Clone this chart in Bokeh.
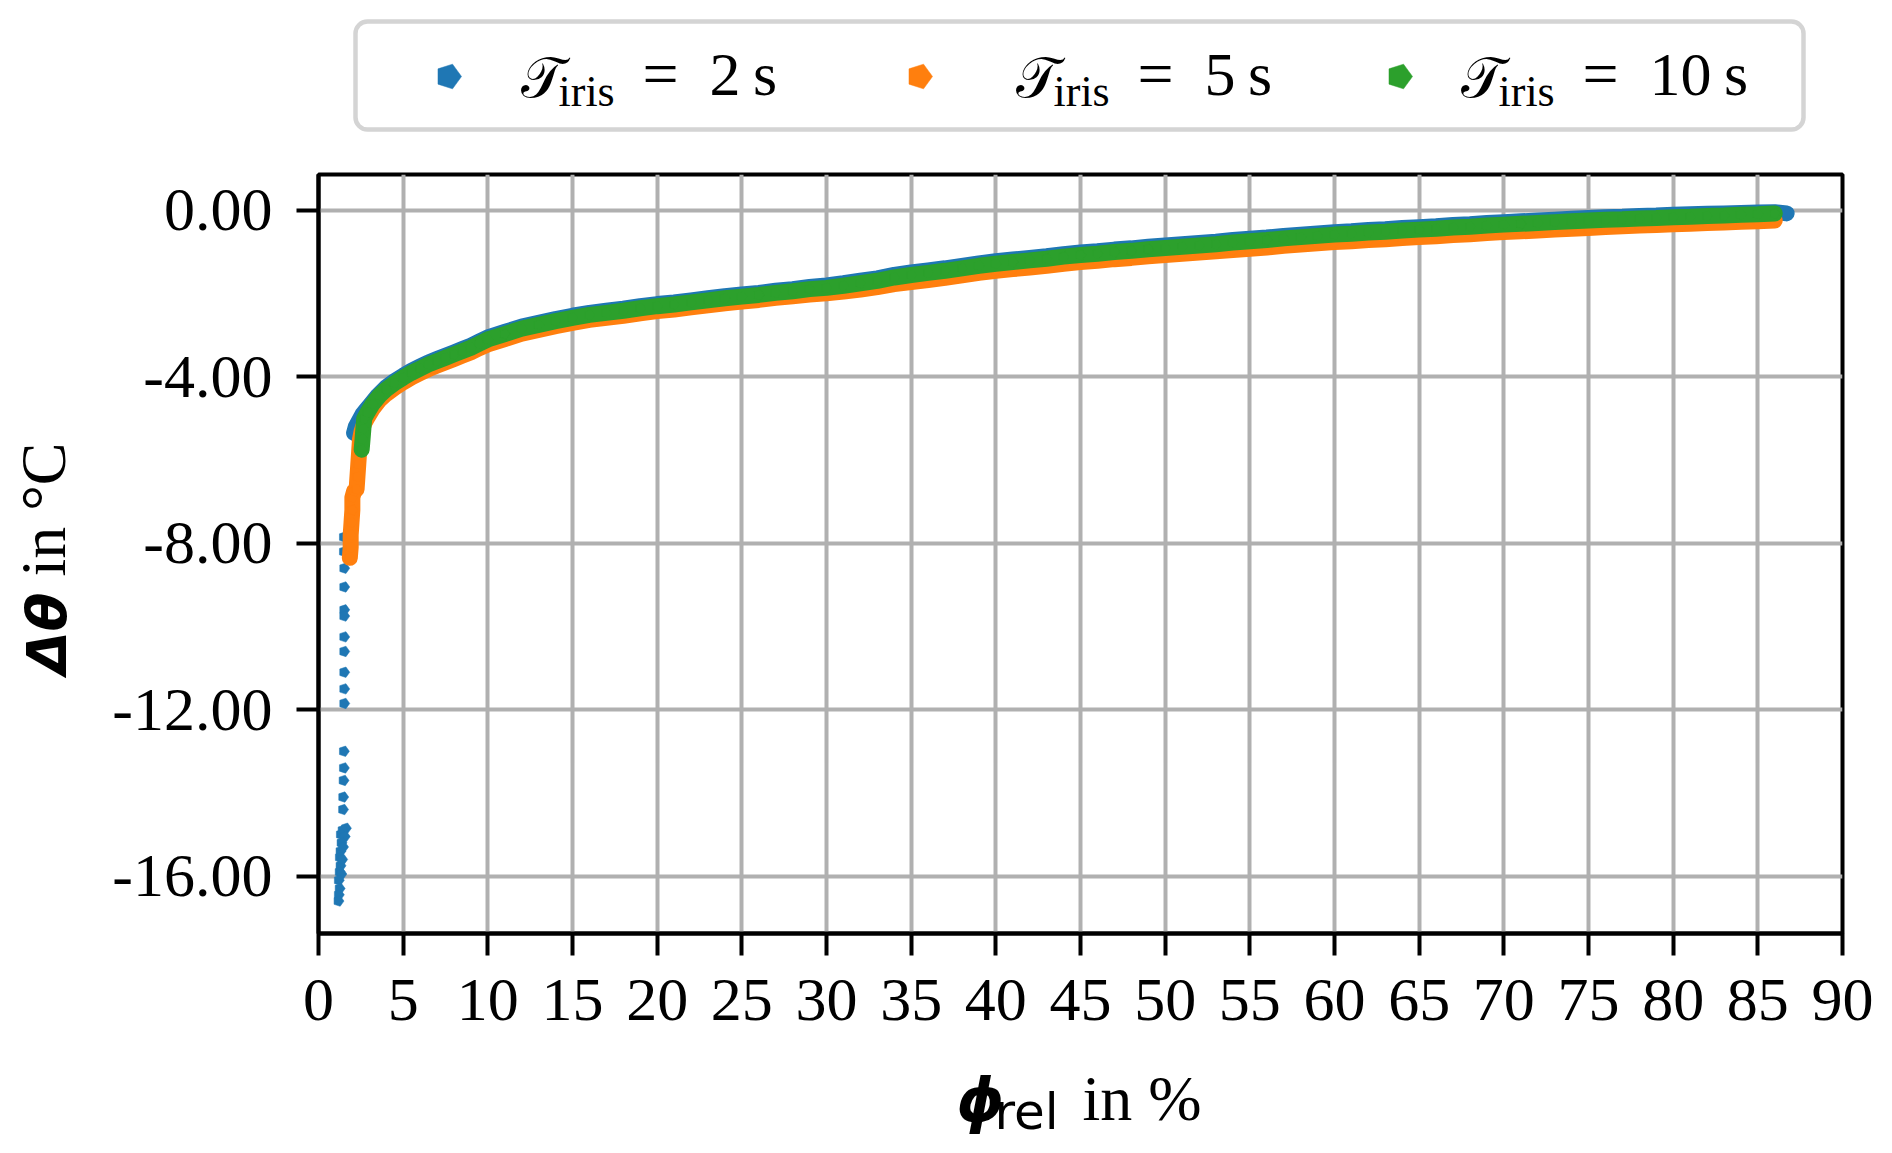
import math
from bokeh.plotting import figure
from bokeh.models import Range1d, FixedTicker
from bokeh.layouts import column, row
from bokeh.embed import file_html
from bokeh.resources import INLINE
from bokeh.core.properties import value

# ---------------- data ----------------
x_ticks = [0, 5, 10, 15, 20, 25, 30, 35, 40, 45, 50, 55, 60, 65, 70, 75, 80, 85, 90]
x_tick_labels = ["0", "5", "10", "15", "20", "25", "30", "35", "40", "45",
                 "50", "55", "60", "65", "70", "75", "80", "85", "90"]
y_ticks = [-16, -12, -8, -4, 0]
y_tick_labels = ["-16.00", "-12.00", "-8.00", "-4.00", "0.00"]

series_names = ["2", "5", "10"]          # T_iris in s
series_colors = ["#1f77b4", "#ff7f0e", "#2ca02c"]

# reading positions for the smooth part (phi_rel in %)
phi_read = [10, 11, 12, 13, 14, 15, 16, 17, 18, 19, 20, 21, 22, 23, 24, 25, 26, 27, 28, 29,
            30, 31, 32, 33, 34, 35, 36, 37, 38, 39, 40, 41, 42, 43, 44, 45, 46, 47, 48, 49,
            50, 51, 52, 53, 54, 55, 56, 57, 58, 59, 60, 61, 62, 63, 64, 65, 66, 67, 68, 69,
            70, 71, 72, 73, 74, 75, 76, 77, 78, 79, 80, 81, 82, 83, 84, 85, 86]

# T_iris = 2 s : isolated steep points
phi_2s_steep = [1.50, 1.50, 1.52, 1.52, 1.52, 1.52, 1.52, 1.52, 1.52, 1.52, 1.52, 1.50, 1.50,
                1.48, 1.46, 1.45, 1.62, 1.42, 1.32, 1.55, 1.36, 1.30, 1.45, 1.26, 1.30, 1.40,
                1.25, 1.35, 1.20, 1.25, 1.20, 1.18]
dtheta_2s_steep = [-7.85, -8.20, -8.60, -9.05, -9.60, -9.75, -10.25, -10.60, -11.10, -11.50,
                   -11.85, -13.00, -13.40, -13.70, -14.10, -14.40, -14.85, -14.90, -15.00,
                   -15.05, -15.20, -15.40, -15.30, -15.55, -15.75, -15.60, -15.90, -15.95,
                   -16.10, -16.30, -16.45, -16.60]
# T_iris = 2 s : dense part
phi_2s_early = [2.1, 2.2, 2.4, 2.6, 2.8, 3.0, 3.5, 4.0, 4.5, 5.0, 5.5, 6.0, 6.5, 7.0, 7.5,
                8.0, 8.5, 9.0, 9.5]
dtheta_2s_early = [-5.35, -5.20, -5.05, -4.90, -4.80, -4.70, -4.45, -4.25, -4.10, -3.97, -3.85,
                   -3.75, -3.65, -3.57, -3.49, -3.41, -3.33, -3.25, -3.15]
dtheta_2s_read = [-3.05, -2.92, -2.79, -2.70, -2.61, -2.53, -2.46, -2.41, -2.36, -2.30,
                  -2.25, -2.21, -2.16, -2.11, -2.06, -2.02, -1.98, -1.93, -1.89, -1.84,
                  -1.80, -1.75, -1.69, -1.63, -1.55, -1.49, -1.44, -1.39, -1.33, -1.27,
                  -1.22, -1.18, -1.14, -1.10, -1.05, -1.01, -0.98, -0.94, -0.91, -0.87,
                  -0.84, -0.81, -0.78, -0.75, -0.71, -0.68, -0.65, -0.61, -0.58, -0.55,
                  -0.52, -0.50, -0.47, -0.45, -0.42, -0.40, -0.38, -0.35, -0.33, -0.30,
                  -0.28, -0.26, -0.24, -0.22, -0.20, -0.18, -0.16, -0.15, -0.13, -0.12,
                  -0.10, -0.09, -0.08, -0.07, -0.06, -0.05, -0.04]
phi_2s_end = [86.7]
dtheta_2s_end = [-0.07]

# T_iris = 5 s
phi_5s_early = [1.85, 1.90, 1.90, 1.95, 2.00, 2.00, 2.10, 2.25, 2.30, 2.35, 2.40, 2.45, 2.55,
                2.70, 2.90, 3.20, 3.60, 4.00, 4.50, 5.00, 5.50, 6.00, 6.50, 7.00, 7.50, 8.00,
                8.50, 9.00, 9.50]
dtheta_5s_early = [-8.35, -8.10, -7.80, -7.50, -7.20, -6.90, -6.75, -6.70, -6.40, -6.10, -5.80,
                   -5.50, -5.30, -5.12, -4.97, -4.77, -4.56, -4.41, -4.26, -4.13, -4.01, -3.91,
                   -3.81, -3.73, -3.65, -3.57, -3.49, -3.41, -3.31]
dtheta_5s_read = [-3.22, -3.09, -2.96, -2.87, -2.78, -2.70, -2.63, -2.58, -2.53, -2.47,
                  -2.42, -2.38, -2.33, -2.28, -2.23, -2.19, -2.15, -2.10, -2.06, -2.02,
                  -1.99, -1.95, -1.90, -1.84, -1.77, -1.72, -1.67, -1.62, -1.56, -1.50,
                  -1.45, -1.41, -1.37, -1.33, -1.28, -1.24, -1.21, -1.17, -1.14, -1.10,
                  -1.07, -1.04, -1.01, -0.98, -0.95, -0.92, -0.89, -0.85, -0.82, -0.79,
                  -0.76, -0.74, -0.71, -0.69, -0.66, -0.64, -0.62, -0.59, -0.57, -0.54,
                  -0.52, -0.50, -0.48, -0.46, -0.44, -0.42, -0.40, -0.38, -0.36, -0.35,
                  -0.33, -0.32, -0.30, -0.29, -0.27, -0.26, -0.24]

# T_iris = 10 s
phi_10s_early = [2.55, 2.60, 2.65, 2.70, 2.90, 3.20, 3.60, 4.00, 4.50, 5.00, 5.50, 6.00, 6.50,
                 7.00, 7.50, 8.00, 8.50, 9.00, 9.50]
dtheta_10s_early = [-5.75, -5.50, -5.25, -5.00, -4.85, -4.65, -4.45, -4.30, -4.15, -4.02,
                    -3.90, -3.80, -3.70, -3.62, -3.54, -3.46, -3.38, -3.30, -3.20]
dtheta_10s_read = [-3.10, -2.97, -2.84, -2.75, -2.66, -2.58, -2.51, -2.46, -2.41, -2.35,
                   -2.30, -2.26, -2.21, -2.16, -2.11, -2.07, -2.03, -1.98, -1.94, -1.89,
                   -1.86, -1.81, -1.75, -1.69, -1.61, -1.55, -1.50, -1.45, -1.39, -1.33,
                   -1.28, -1.24, -1.20, -1.16, -1.11, -1.07, -1.04, -1.00, -0.97, -0.93,
                   -0.90, -0.87, -0.84, -0.81, -0.77, -0.74, -0.71, -0.67, -0.64, -0.61,
                   -0.58, -0.56, -0.53, -0.51, -0.48, -0.46, -0.44, -0.41, -0.39, -0.36,
                   -0.34, -0.32, -0.30, -0.28, -0.26, -0.24, -0.22, -0.21, -0.19, -0.18,
                   -0.16, -0.15, -0.13, -0.12, -0.10, -0.09, -0.07]

phi_2s = phi_2s_early + phi_read + phi_2s_end
dtheta_2s = dtheta_2s_early + dtheta_2s_read + dtheta_2s_end
phi_5s = phi_5s_early + phi_read
dtheta_5s = dtheta_5s_early + dtheta_5s_read
phi_10s = phi_10s_early + phi_read
dtheta_10s = dtheta_10s_early + dtheta_10s_read

# ---------------- layout constants (page pixels) ----------------
SERIF = "Liberation Serif"
SANS = "DejaVu Sans"
OFF = 2                      # page offset of the layout
W = 1876
YLAB_W = 106
FRAME_L, FRAME_R, FRAME_T, FRAME_B = 320, 1844, 176, 935
LEG_TOP, ROW_TOP, XLAB_TOP, XLAB_BOT = OFF, 158, 1060, 1148
MARK_R = 5.5
BAND_W = 16
BASE = 0.36                  # baseline correction (fraction of font size)

B_LEFT = FRAME_L - OFF
B_RIGHT = OFF + W - FRAME_R


def pentagons(fig, x, y, r, color, angle):
    try:
        fig.ngon(x=x, y=y, radius=r, radius_units="screen", n=5, angle=angle,
                 fill_color=color, line_color=color, line_width=0.5)
    except Exception:
        fig.scatter(x=x, y=y, marker="hex", size=2 * r, fill_color=color, line_color=color)


def strip(width, height, xr, yr, **borders):
    f = figure(width=width, height=height, x_range=Range1d(*xr), y_range=Range1d(*yr),
               toolbar_location=None, output_backend="svg",
               x_axis_location=None, y_axis_location=None, **borders)
    f.grid.visible = False
    f.outline_line_color = None
    f.background_fill_color = "white"
    f.border_fill_color = "white"
    return f


def put(fig, x, y, txt, font, size, style="normal", angle=0.0):
    # x / y given as the visual baseline position; corrected for the renderer's offset
    shift = BASE * size
    if angle:
        x = x - shift
    else:
        y = y - shift
    fig.text(x=[x], y=[y], text=[txt], angle=angle,
             text_font=value(font), text_font_size=f"{size}px", text_font_style=style,
             text_baseline="alphabetic", text_align="left", text_color="black")


# ---------------- legend strip (data coords = page pixels) ----------------
leg = strip(W, ROW_TOP - LEG_TOP, (FRAME_L, FRAME_R), (ROW_TOP, LEG_TOP),
            min_border_left=B_LEFT, min_border_right=B_RIGHT, min_border_top=0, min_border_bottom=0)
try:
    leg.quad(left=[357], right=[1805], top=[23], bottom=[131], fill_color="white",
             line_color="#d4d4d4", line_width=4.5, border_radius=12)
except Exception:
    leg.quad(left=[357], right=[1805], top=[23], bottom=[131], fill_color="white",
             line_color="#d4d4d4", line_width=4.5)

marker_x = [450, 921, 1401]
t_x = [522, 1017, 1462]
for i in range(3):
    pentagons(leg, [marker_x[i]], [78], 13, series_colors[i], -math.pi / 2)
    t0 = t_x[i]
    put(leg, t0, 100, "𝒯", SERIF, 56)
    put(leg, t0 + 38, 109, "iris", SERIF, 44)
    put(leg, t0 + 122, 98, "=", SERIF, 64)
    put(leg, t0 + 189, 98, series_names[i] + "\u2009s", SERIF, 62)

# ---------------- main plot ----------------
p = figure(width=W - YLAB_W, height=XLAB_TOP - ROW_TOP,
           x_range=Range1d(0, 90), y_range=Range1d(-17.38, 0.865),
           toolbar_location=None, output_backend="svg",
           min_border_left=FRAME_L - (OFF + YLAB_W), min_border_right=B_RIGHT,
           min_border_top=FRAME_T - ROW_TOP, min_border_bottom=XLAB_TOP - FRAME_B)
p.background_fill_color = "white"
p.border_fill_color = "white"
p.outline_line_color = "black"
p.outline_line_width = 4
p.outline_line_alpha = 1

for ax, ticks, labels in ((p.xaxis, x_ticks, x_tick_labels), (p.yaxis, y_ticks, y_tick_labels)):
    ax.ticker = FixedTicker(ticks=ticks)
    ax.major_label_overrides = {t: l for t, l in zip(ticks, labels)}
    ax.axis_line_width = 4
    ax.axis_line_color = "black"
    ax.major_tick_line_width = 4
    ax.major_tick_line_color = "black"
    ax.major_tick_out = 22
    ax.major_tick_in = 0
    ax.minor_tick_out = 0
    ax.minor_tick_in = 0
    ax.major_label_text_font = SERIF
    ax.major_label_text_font_size = "62px"
    ax.major_label_text_color = "black"
p.xaxis.major_label_standoff = 24
p.yaxis.major_label_standoff = 24

p.grid.grid_line_color = "#b0b0b0"
p.grid.grid_line_width = 4

# data: blue, orange, green (green on top)
p.line(phi_2s, dtheta_2s, line_width=BAND_W, color=series_colors[0], line_cap="round", line_join="round")
pentagons(p, phi_2s, dtheta_2s, MARK_R, series_colors[0], -math.pi / 2)
pentagons(p, phi_2s_steep, dtheta_2s_steep, MARK_R, series_colors[0], -math.pi / 2)
p.line(phi_5s, dtheta_5s, line_width=BAND_W, color=series_colors[1], line_cap="round", line_join="round")
pentagons(p, phi_5s, dtheta_5s, MARK_R, series_colors[1], -math.pi / 2)
p.line(phi_10s, dtheta_10s, line_width=BAND_W, color=series_colors[2], line_cap="round", line_join="round")
pentagons(p, phi_10s, dtheta_10s, MARK_R, series_colors[2], -math.pi / 2)

# ---------------- y-axis title strip (data coords = page pixels) ----------------
ylab = strip(YLAB_W, XLAB_TOP - ROW_TOP, (OFF, OFF + YLAB_W), (FRAME_B, FRAME_T),
             min_border_left=0, min_border_right=0,
             min_border_top=FRAME_T - ROW_TOP, min_border_bottom=XLAB_TOP - FRAME_B)
put(ylab, 68, 676, "Δθ", SANS, 56, "bold italic", math.pi / 2)
put(ylab, 68, 578, "in °C", SERIF, 64, "normal", math.pi / 2)

# ---------------- x-axis title strip (data coords = page pixels) ----------------
xlab = strip(W, XLAB_BOT - XLAB_TOP, (FRAME_L, FRAME_R), (XLAB_BOT, XLAB_TOP),
             min_border_left=B_LEFT, min_border_right=B_RIGHT, min_border_top=0, min_border_bottom=0)
put(xlab, 958, 1123, "ϕ", SANS, 60, "bold italic")
put(xlab, 996, 1131, "rel", SANS, 50)
put(xlab, 1084, 1123, "in %", SERIF, 64)

layout = column(leg, row(ylab, p, spacing=0), xlab, spacing=0)
open("out.html", "w").write(file_html(layout, INLINE))
